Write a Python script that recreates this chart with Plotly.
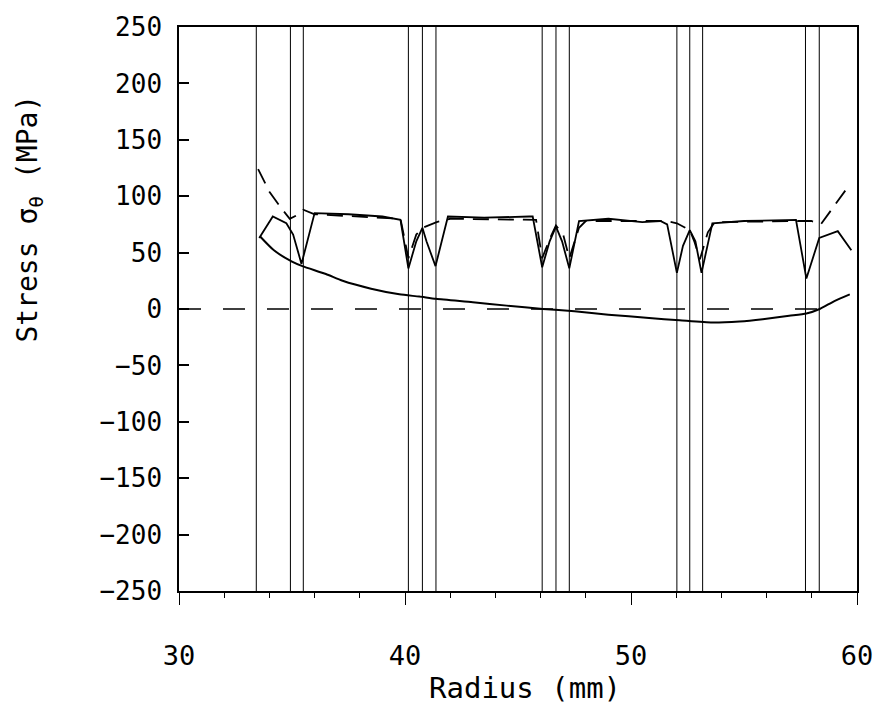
import plotly.graph_objects as go

# Ring interface radii (mm) - vertical lines
interfaces = [33.42, 34.93, 35.50, 40.15, 40.77, 41.37, 46.07, 46.68, 47.27,
              52.03, 52.60, 53.17, 57.72, 58.33]

# Upper solid curve (hoop stress, MPa)
solid_upper_r = [33.55, 34.15, 34.75, 35.05, 35.42, 35.62, 36.0, 37.5, 39.0, 39.8,
                 40.15, 40.5, 40.77, 40.95, 41.35, 41.9, 43.5, 45.5, 45.65,
                 46.07, 46.4, 46.68, 46.95, 47.27, 47.7, 49.0, 50.5, 51.3, 51.6,
                 52.03, 52.3, 52.6, 52.85, 53.12, 53.6, 55.0, 57.3,
                 57.76, 58.05, 58.33, 59.15, 59.75]
solid_upper_s = [63, 82, 76, 66, 40, 55, 85, 84, 82, 79,
                 36, 60, 72, 60, 38, 82, 81, 82, 82,
                 37, 60, 73, 60, 36, 78, 80, 77, 78, 75,
                 32, 56, 70, 60, 32, 76, 78, 79,
                 27, 46, 63, 69, 52]

# Upper dashed curve
dashed_upper_r = [33.5, 34.0, 34.5, 34.9, 35.2, 35.5, 36.0, 39.8, 40.15, 40.5,
                  40.77, 41.1, 41.4, 42.0, 45.8, 46.07, 46.4, 46.68, 47.0,
                  47.27, 47.7, 48.0, 51.6, 52.03, 52.6, 52.8, 53.05, 53.4,
                  53.7, 57.4, 57.98, 58.4, 58.8, 59.2, 59.7]
dashed_upper_s = [124, 104, 90, 80, 83, 88, 84, 80, 45, 66,
                  72, 75, 77, 80, 79, 45, 62, 74, 66,
                  45, 72, 78, 78, 76, 70, 60, 44, 68,
                  77, 78, 78, 75, 86, 97, 111]

# Lower solid curve
lower_r = [33.6, 34.2, 35.0, 35.46, 36.5, 37.24, 38.5, 39.75, 40.63, 41.37,
           43.0, 44.5, 46.1, 47.5, 49.0, 50.8, 52.15, 53.6, 54.8, 55.83,
           57.0, 57.76, 58.35, 59.0, 59.68]
lower_s = [64, 52, 42, 38, 31, 25, 18, 13, 11, 9,
           6, 3, 0, -2, -5, -8, -10, -12, -11, -9,
           -6, -4, 0, 7, 13]

# Dashed zero (radial) line
zero_r = [30.0, 59.0]
zero_s = [0, 0]

x_ticks = [30, 40, 50, 60]
y_ticks = [-250, -200, -150, -100, -50, 0, 50, 100, 150, 200, 250]

FONT = "DejaVu Sans Mono"

fig = go.Figure()

vx, vy = [], []
for r in interfaces:
    vx += [r, r, None]
    vy += [-250, 250, None]
fig.add_trace(go.Scatter(x=vx, y=vy, mode="lines",
                         line=dict(color="black", width=1), hoverinfo="skip"))

fig.add_trace(go.Scatter(x=zero_r, y=zero_s, mode="lines",
                         line=dict(color="black", width=1.5, dash="22px,22px")))
fig.add_trace(go.Scatter(x=lower_r, y=lower_s, mode="lines",
                         line=dict(color="black", width=2, shape="spline", smoothing=0.6)))
fig.add_trace(go.Scatter(x=dashed_upper_r, y=dashed_upper_s, mode="lines",
                         line=dict(color="black", width=1.8, dash="16px,9px")))
fig.add_trace(go.Scatter(x=solid_upper_r, y=solid_upper_s, mode="lines",
                         line=dict(color="black", width=1.8)))

fig.update_layout(
    width=885, height=712,
    margin=dict(l=179, r=28, t=17, b=121),
    paper_bgcolor="white", plot_bgcolor="white",
    showlegend=False,
    font=dict(family=FONT, size=26, color="black"),
    xaxis=dict(range=[30, 60], tickvals=x_ticks, ticktext=[str(v) for v in x_ticks],
               ticks="outside", ticklen=12, tickwidth=1.2, tickcolor="black",
               minor=dict(dtick=2, ticks="outside", ticklen=5, tickcolor="black"),
               showline=True, linecolor="black", linewidth=1.5, mirror=True,
               showgrid=False, zeroline=False, ticklabelstandoff=28,
               tickfont=dict(family=FONT, size=27)),
    yaxis=dict(range=[-250, 250], tickvals=y_ticks, ticktext=[str(v).replace("-", "−") for v in y_ticks],
               ticks="inside", ticklen=10, tickwidth=1.5, tickcolor="black",
               showline=True, linecolor="black", linewidth=1.5, mirror=True,
               showgrid=False, zeroline=False, ticklabelstandoff=10,
               tickfont=dict(family=FONT, size=26)),
    annotations=[
        dict(text="Stress σ<sub>θ</sub> (MPa)", xref="paper", yref="paper",
             x=(30 - 179) / 678, y=(591 - 212) / 574, showarrow=False,
             textangle=-90, font=dict(family=FONT, size=28, color="black"),
             xanchor="center", yanchor="middle"),
        dict(text="Radius (mm)", xref="paper", yref="paper",
             x=(525 - 179) / 678, y=(591 - 690) / 574, showarrow=False,
             font=dict(family=FONT, size=29, color="black"),
             xanchor="center", yanchor="middle"),
    ],
)

fig.write_html("out.html")
